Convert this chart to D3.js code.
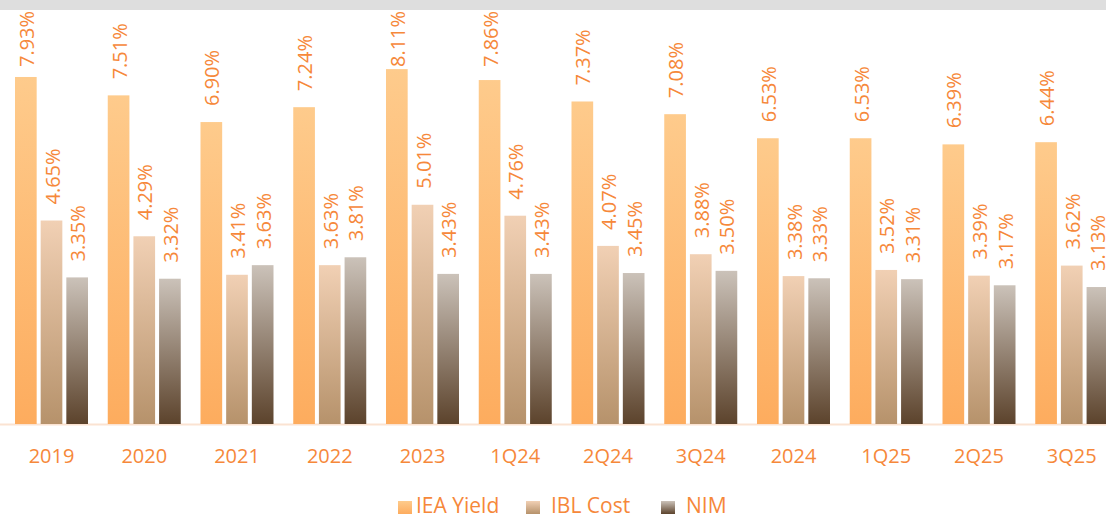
<!DOCTYPE html>
<html><head><meta charset="utf-8">
<script src="https://cdn.jsdelivr.net/npm/d3@7"></script>
<style>
html,body{margin:0;padding:0;background:#fff;}
svg{display:block;font-family:"Open Sans","Noto Sans",sans-serif;}
</style></head>
<body><svg id="c" width="1106" height="518"></svg>
<script>
const categories = ["2019","2020","2021","2022","2023","1Q24","2Q24","3Q24","2024","1Q25","2Q25","3Q25"];
const seriesNames = ["IEA Yield","IBL Cost","NIM"];
const ieaYield = [7.93,7.51,6.90,7.24,8.11,7.86,7.37,7.08,6.53,6.53,6.39,6.44];
const iblCost  = [4.65,4.29,3.41,3.63,5.01,4.76,4.07,3.88,3.38,3.52,3.39,3.62];
const nim      = [3.35,3.32,3.63,3.81,3.43,3.43,3.45,3.50,3.33,3.31,3.17,3.13];
const seriesValues = [ieaYield, iblCost, nim];

const svg = d3.select("#c");
const W = 1106, H = 518;
const baseY = 424;
const orange = "#f6883a";
const fs = 20;

svg.append("rect").attr("x",0).attr("y",0).attr("width",W).attr("height",10).attr("fill","#dedede");

const defs = svg.append("defs");
const grads = [["#fecb8c","#fdac5e"],["#f1d0b4","#b6926b"],["#cbc2b9","#5c432c"]];
grads.forEach((g,i)=>{
  const lg = defs.append("linearGradient").attr("id","g"+i).attr("x1",0).attr("y1",0).attr("x2",0).attr("y2",1);
  lg.append("stop").attr("offset","0%").attr("stop-color",g[0]);
  lg.append("stop").attr("offset","100%").attr("stop-color",g[1]);
});

const step = 92.75, groupW = 73;
const pin = (step-groupW)/step;
const x0 = d3.scaleBand().domain(categories)
  .range([15-(step-groupW)/2, 15-(step-groupW)/2+step*12]).paddingInner(pin).paddingOuter(pin/2);
const x1 = d3.scaleBand().domain(seriesNames).range([0, x0.bandwidth()]).paddingInner(4/25.7);
const y = d3.scaleLinear().domain([0, 8.11]).range([baseY, baseY - 8.11*43.76]);

svg.append("line").attr("x1",0).attr("x2",W).attr("y1",baseY+0.5).attr("y2",baseY+0.5)
  .attr("stroke","#fbe3d2").attr("stroke-width",2);

const data = [];
categories.forEach((c,ci)=>seriesNames.forEach((s,si)=>data.push({c,s,si,v:seriesValues[si][ci]})));

svg.append("g").selectAll("rect").data(data).join("rect")
  .attr("x",d=>x0(d.c)+x1(d.s)).attr("width",x1.bandwidth())
  .attr("y",d=>y(d.v)).attr("height",d=>baseY-y(d.v))
  .attr("fill",d=>`url(#g${d.si})`);

svg.append("g").selectAll("text").data(data).join("text")
  .attr("transform",d=>`translate(${x0(d.c)+x1(d.s)+x1.bandwidth()/2+8},${Math.max(y(d.v)-16,67)}) rotate(-90)`)
  .attr("fill",orange).attr("font-size",fs)
  .text(d=>d.v.toFixed(2)+"%");

const xAxis = d3.axisBottom(x0).tickSize(0).tickPadding(0);
const gx = svg.append("g").attr("transform",`translate(0,${baseY})`).call(xAxis);
gx.select(".domain").remove();
gx.selectAll("text").attr("fill",orange).attr("font-size",fs).attr("font-family","'Open Sans','Noto Sans',sans-serif")
  .attr("dy",null).attr("y",39);

const legendItems = [{n:"IEA Yield",x:398,tx:416},{n:"IBL Cost",x:526,tx:551},{n:"NIM",x:661,tx:686}];
const lg = svg.append("g");
legendItems.forEach((it,i)=>{
  lg.append("rect").attr("x",it.x).attr("y",501).attr("width",14).attr("height",13).attr("fill",`url(#g${i})`);
  lg.append("text").attr("x",it.tx).attr("y",513).attr("fill",orange).attr("font-size",21).text(it.n);
});
</script></body></html>
